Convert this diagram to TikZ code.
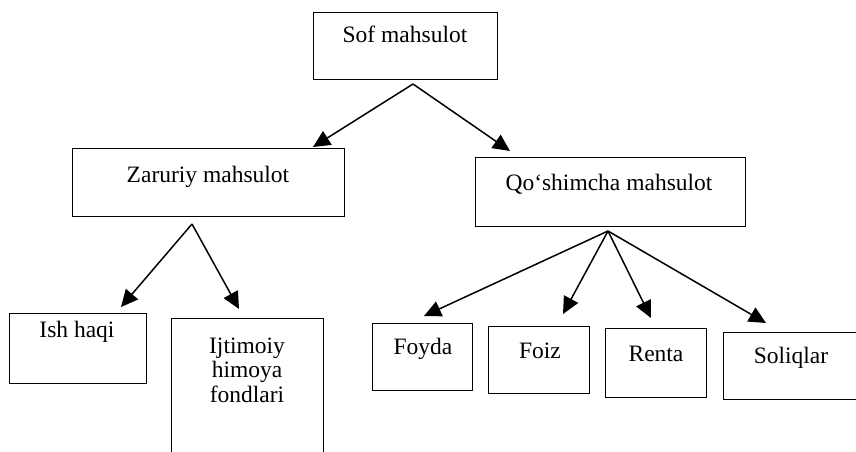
\documentclass[tikz,border=0pt]{standalone}
\usepackage{fontspec}
\setmainfont{Liberation Serif}
\usetikzlibrary{arrows.meta}
\begin{document}
\begin{tikzpicture}[x=1pt,y=-1pt,
  box/.style={draw, line width=1.3pt, inner sep=0pt, anchor=north west},
  lbl/.style={font=\fontsize{23.5}{24.5}\selectfont, inner sep=0pt, align=center},
  arr/.style={line width=1.5pt, -{Triangle[length=17pt,width=16pt]}}]
\useasboundingbox (0,0) rectangle (856,451);
\clip (0,0) rectangle (856,451);
% boxes
\node[box, minimum width=184pt, minimum height=67pt] (sof) at (313,12) {};
\node[box, minimum width=272pt, minimum height=68pt] (zar) at (72,148) {};
\node[box, minimum width=270pt, minimum height=69pt] (qos) at (475,157) {};
\node[box, minimum width=137pt, minimum height=70pt] (ish) at (9,313) {};
\node[box, minimum width=152pt, minimum height=160pt] (ijt) at (171,318) {};
\node[box, minimum width=100pt, minimum height=67pt] (foy) at (372,323) {};
\node[box, minimum width=101pt, minimum height=67pt] (foi) at (488,326) {};
\node[box, minimum width=101pt, minimum height=69pt] (ren) at (605,328) {};
\node[box, minimum width=180pt, minimum height=67pt] (sol) at (723,332) {};
% labels
\node[lbl] (tsof) at (405,34) {Sof mahsulot};
\node[lbl] (tzar) at (208,177) {Zaruriy mahsulot};
\node[lbl] (tqos) at (609,184) {Qo‘shimcha mahsulot};
\node[lbl] (tish) at (77,332) {Ish haqi};
\node[lbl] (tijt) at (247,370) {Ijtimoiy\\himoya\\fondlari};
\node[lbl] (tfoy) at (423,349) {Foyda};
\node[lbl] (tfoi) at (540,351) {Foiz};
\node[lbl] (tren) at (656,354) {Renta};
\node[lbl] (tsol) at (791,358) {Soliqlar};
% apexes and tips
\coordinate (p0) at (413,84);
\coordinate (p1) at (192,224);
\coordinate (p2) at (608,231);
\coordinate (zarT) at (313,147);
\coordinate (qosT) at (510,151);
\coordinate (ishT) at (121,307);
\coordinate (ijtT) at (239,309);
\coordinate (foyT) at (424,316);
\coordinate (foiT) at (563,314);
\coordinate (renT) at (651,318);
\coordinate (solT) at (766,323);
% arrows
\draw[arr] (p0) -- (zarT);
\draw[arr] (p0) -- (qosT);
\draw[arr] (p1) -- (ishT);
\draw[arr] (p1) -- (ijtT);
\draw[arr] (p2) -- (foyT);
\draw[arr] (p2) -- (foiT);
\draw[arr] (p2) -- (renT);
\draw[arr] (p2) -- (solT);
\end{tikzpicture}
\end{document}
